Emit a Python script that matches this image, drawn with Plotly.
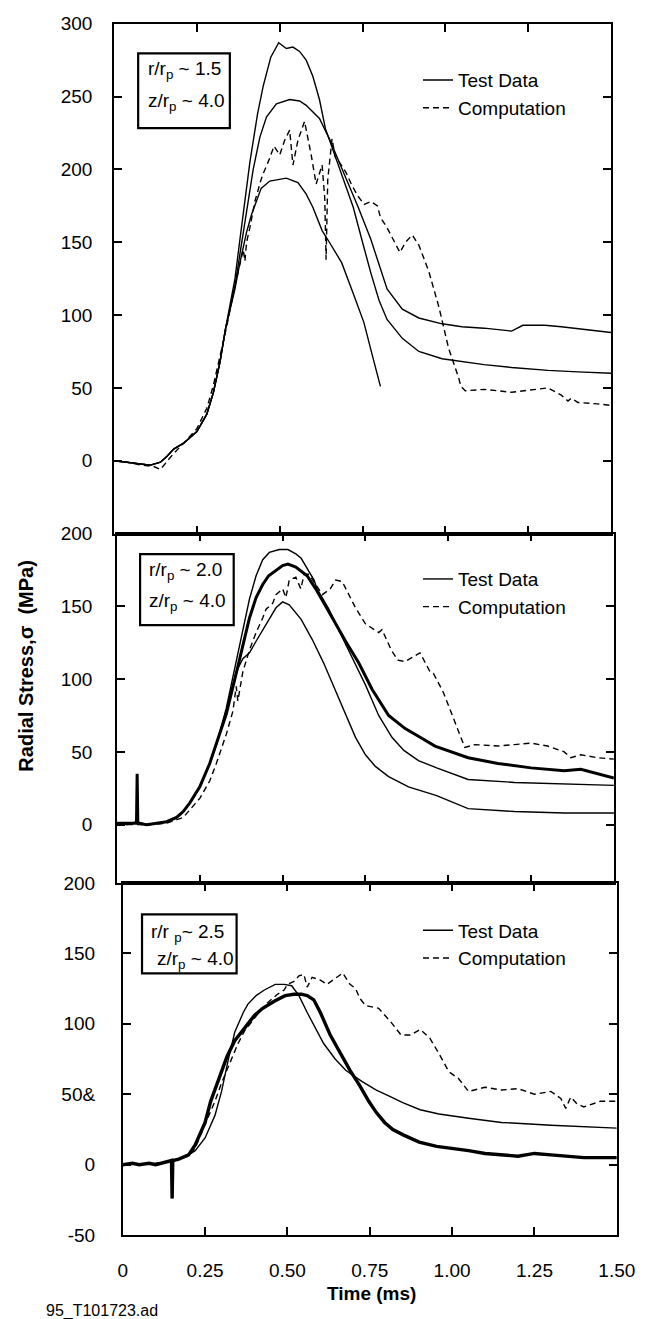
import plotly.graph_objects as go

# ---------------- data ----------------
# Top panel  r/rp ~ 1.5
top_early_t = [0, 0.04, 0.08, 0.11, 0.14, 0.16, 0.18, 0.21, 0.25, 0.28, 0.30, 0.32, 0.336]
top_early_v = [0, -1, -2, -3, -1, 3, 8, 12, 20, 32, 47, 68, 90]

top_a_t = [0.35, 0.365, 0.38, 0.395, 0.41, 0.433, 0.45, 0.473, 0.497, 0.52, 0.54, 0.56, 0.58, 0.60, 0.62,
           0.638, 0.658, 0.69, 0.722, 0.75, 0.775, 0.80, 0.824, 0.87, 0.92, 0.99, 1.05, 1.117, 1.2, 1.31, 1.4, 1.5]
top_a_v = [108, 125, 152, 180, 205, 238, 257, 277, 287, 283, 284, 281, 275, 264, 248,
           228, 215, 195, 174, 150, 129, 110, 97, 84, 75, 70, 68, 66, 64, 62, 61, 60]

top_b_t = [0.35, 0.365, 0.38, 0.40, 0.42, 0.44, 0.46, 0.49, 0.53, 0.56, 0.58, 0.62, 0.65, 0.70, 0.737,
           0.775, 0.80, 0.824, 0.87, 0.92, 0.99, 1.05, 1.117, 1.2, 1.234, 1.3, 1.35, 1.42, 1.5]
top_b_v = [104, 120, 142, 172, 200, 222, 236, 245, 248, 247, 244, 235, 221, 194, 174,
           152, 134, 118, 104, 98, 94, 92, 91, 89, 93, 93, 92, 90, 88]

top_c_t = [0.35, 0.365, 0.38, 0.40, 0.415, 0.444, 0.47, 0.49, 0.52, 0.555, 0.58, 0.60, 0.628, 0.65,
           0.687, 0.72, 0.754, 0.78, 0.804]
top_c_v = [104, 118, 136, 157, 169, 187, 192, 193, 194, 191, 183, 174, 158, 150,
           136, 116, 95, 72, 51]

top_comp_t = [0, 0.04, 0.08, 0.12, 0.14, 0.155, 0.18, 0.21, 0.25, 0.28, 0.30, 0.32, 0.34, 0.36, 0.38,
              0.39, 0.395, 0.40, 0.41, 0.425, 0.44, 0.448, 0.465, 0.483, 0.50, 0.515, 0.53, 0.54, 0.555,
              0.575, 0.595, 0.61, 0.628, 0.636, 0.64, 0.645, 0.658, 0.668, 0.68, 0.70, 0.716, 0.735,
              0.755, 0.775, 0.795, 0.804, 0.824, 0.863, 0.88, 0.90, 0.92, 0.95, 0.98, 1.01, 1.04,
              1.047, 1.06, 1.117, 1.2, 1.31, 1.35, 1.37, 1.38, 1.40, 1.46, 1.5]
top_comp_v = [0, -1, -3, -4, -6, -2, 5, 12, 22, 36, 52, 72, 92, 115, 135,
              145, 137, 150, 160, 178, 190, 196, 205, 216, 210, 220, 227, 203, 220,
              233, 210, 190, 203, 180, 138, 193, 221, 208, 205, 198, 190, 182,
              176, 178, 175, 167, 160, 143, 150, 155, 148, 130, 106, 77, 57,
              51, 48, 49, 47, 50, 45, 41, 43, 40, 39, 38]

# Middle panel  r/rp ~ 2.0
mid_early_t = [0, 0.03, 0.06, 0.09, 0.12, 0.15, 0.18, 0.20, 0.22, 0.25, 0.28, 0.30]
mid_early_v = [1, 0, 2, 0, 1, 2, 5, 9, 15, 26, 42, 55]

mid_a_t = [0.33, 0.36, 0.38, 0.40, 0.42, 0.44, 0.46, 0.49, 0.516, 0.54, 0.556, 0.575, 0.595, 0.604,
           0.64, 0.673, 0.71, 0.75, 0.79, 0.83, 0.866, 0.91, 0.965, 1.06, 1.2, 1.35, 1.5]
mid_a_v = [80, 112, 132, 155, 171, 182, 187, 189, 189, 186, 183, 176, 168, 162,
           148, 132, 115, 96, 75, 60, 51, 44, 39, 31, 29, 28, 27]

mid_b_spike_t = [0.0, 0.059, 0.061, 0.063, 0.09, 0.12, 0.15, 0.18, 0.20, 0.22, 0.25, 0.28, 0.30]
mid_b_spike_v = [1, 1, 35, 1, 0, 1, 2, 5, 9, 15, 26, 42, 55]

mid_b_t = [0.33, 0.36, 0.38, 0.40, 0.42, 0.44, 0.458, 0.48, 0.50, 0.516, 0.54, 0.574, 0.60, 0.653,
           0.69, 0.73, 0.77, 0.82, 0.87, 0.915, 0.96, 1.06, 1.15, 1.25, 1.35, 1.4, 1.45, 1.5]
mid_b_v = [76, 104, 124, 142, 156, 165, 171, 175, 178, 179, 177, 171, 162, 141,
           126, 111, 93, 75, 66, 60, 54, 46, 42, 39, 37, 38, 35, 32]

mid_c_t = [0.33, 0.36, 0.38, 0.40, 0.42, 0.44, 0.458, 0.48, 0.50, 0.52, 0.556, 0.59, 0.624, 0.66,
           0.69, 0.72, 0.75, 0.78, 0.82, 0.88, 0.965, 1.06, 1.2, 1.35, 1.5]
mid_c_v = [78, 105, 114, 118, 126, 134, 141, 149, 153, 151, 141, 127, 111, 92,
           75, 60, 48, 40, 33, 26, 20, 11, 9, 8, 8]

mid_comp_t = [0, 0.10, 0.15, 0.20, 0.25, 0.28, 0.30, 0.33, 0.35, 0.36, 0.365, 0.38, 0.40, 0.42, 0.44,
              0.45, 0.47, 0.48, 0.50, 0.51, 0.52, 0.54, 0.555, 0.565, 0.58, 0.60, 0.62, 0.644, 0.66,
              0.68, 0.72, 0.75, 0.79, 0.80, 0.828, 0.848, 0.87, 0.907, 0.915, 0.945, 0.955, 0.985,
              1.023, 1.05, 1.08, 1.15, 1.2, 1.25, 1.3, 1.35, 1.37, 1.4, 1.45, 1.5]
mid_comp_v = [0, 0, 1, 5, 18, 30, 42, 62, 78, 95, 85, 105, 120, 132, 142,
              148, 152, 158, 162, 156, 168, 170, 162, 172, 172, 165, 158, 162, 168,
              167, 149, 138, 132, 134, 120, 113, 112, 117, 118, 105, 104, 91,
              69, 53, 55, 54, 55, 56, 54, 50, 46, 48, 46, 45]

# Bottom panel  r/rp ~ 2.5
bot_early_t = [0, 0.03, 0.05, 0.08, 0.10, 0.13, 0.148, 0.15, 0.152, 0.17, 0.20]
bot_early_v = [0, 1, 0, 1, 0, 2, 3, -24, 3, 4, 7]

bot_a_t = [0.22, 0.25, 0.28, 0.30, 0.32, 0.34, 0.366, 0.38, 0.405, 0.43, 0.463, 0.49, 0.513, 0.535,
           0.56, 0.585, 0.61, 0.645, 0.677, 0.727, 0.77, 0.806, 0.85, 0.903, 0.96, 1.05, 1.15, 1.3, 1.5]
bot_a_v = [10, 19, 35, 52, 74, 94, 108, 114, 120, 124, 128, 128, 127, 120,
           108, 97, 86, 75, 67, 59, 53, 49, 44, 39, 36, 33, 30, 28, 26]

bot_b_t = [0.22, 0.25, 0.267, 0.29, 0.317, 0.34, 0.366, 0.40, 0.425, 0.46, 0.493, 0.52, 0.542, 0.56,
           0.58, 0.60, 0.63, 0.66, 0.69, 0.72, 0.747, 0.77, 0.795, 0.82, 0.853, 0.90, 0.953, 1.05,
           1.1, 1.2, 1.25, 1.3, 1.4, 1.5]
bot_b_v = [14, 30, 45, 60, 77, 88, 96, 106, 111, 116, 120, 121, 121, 120,
           117, 108, 92, 79, 67, 56, 45, 37, 30, 25, 21, 16, 13, 10,
           8, 6, 8, 7, 5, 5]

bot_comp_t = [0, 0.10, 0.15, 0.20, 0.22, 0.25, 0.28, 0.30, 0.33, 0.35, 0.37, 0.40, 0.42, 0.44, 0.47,
              0.49, 0.50, 0.52, 0.535, 0.55, 0.56, 0.575, 0.60, 0.62, 0.65, 0.668, 0.69, 0.707, 0.72,
              0.737, 0.777, 0.80, 0.815, 0.845, 0.873, 0.903, 0.932, 0.962, 0.99, 1.02, 1.05, 1.1,
              1.15, 1.2, 1.25, 1.3, 1.33, 1.345, 1.36, 1.38, 1.40, 1.45, 1.5]
bot_comp_v = [0, 1, 3, 6, 12, 28, 45, 58, 75, 86, 95, 104, 110, 115, 121,
              124, 128, 130, 134, 135, 126, 133, 131, 128, 133, 136, 128, 125, 118,
              113, 111, 105, 101, 92, 92, 96, 90, 78, 66, 61, 52, 55,
              53, 54, 50, 52, 47, 40, 48, 43, 41, 45, 45]

x_tick_vals = [0, 0.25, 0.5, 0.75, 1.0, 1.25, 1.5]
x_tick_text = ["0", "0.25", "0.50", "0.75", "1.00", "1.25", "1.50"]
top_tick_vals = [0, 50, 100, 150, 200, 250, 300]
mid_tick_vals = [0, 50, 100, 150, 200]
bot_tick_vals = [-50, 0, 50, 100, 150, 200]
bot_tick_text = ["-50", "0", "50&", "100", "150", "200"]

# ---------------- figure ----------------
W, H = 657, 1319
FONT = "Liberation Sans, Arial, Helvetica, sans-serif"
BLACK = "#000000"

def px_x(p):
    return p / W

def px_y(p):
    return 1 - p / H

fig = go.Figure()

thin = dict(color=BLACK, width=1.4)
thick = dict(color=BLACK, width=3)
dashed = dict(color=BLACK, width=1.4, dash="6px,4px")

# top
fig.add_trace(go.Scatter(x=top_early_t + top_a_t, y=top_early_v + top_a_v, mode="lines", line=thin,
                         name="Test Data", legend="legend", xaxis="x", yaxis="y"))
fig.add_trace(go.Scatter(x=top_early_t + top_b_t, y=top_early_v + top_b_v, mode="lines", line=thin,
                         showlegend=False, xaxis="x", yaxis="y"))
fig.add_trace(go.Scatter(x=top_early_t + top_c_t, y=top_early_v + top_c_v, mode="lines", line=thin,
                         showlegend=False, xaxis="x", yaxis="y"))
fig.add_trace(go.Scatter(x=top_comp_t, y=top_comp_v, mode="lines", line=dashed,
                         name="Computation", legend="legend", xaxis="x", yaxis="y"))

# middle
fig.add_trace(go.Scatter(x=mid_early_t + mid_a_t, y=mid_early_v + mid_a_v, mode="lines", line=thin,
                         name="Test Data", legend="legend2", xaxis="x2", yaxis="y2"))
fig.add_trace(go.Scatter(x=mid_b_spike_t + mid_b_t, y=mid_b_spike_v + mid_b_v, mode="lines", line=thick,
                         showlegend=False, xaxis="x2", yaxis="y2"))
fig.add_trace(go.Scatter(x=mid_early_t + mid_c_t, y=mid_early_v + mid_c_v, mode="lines", line=thin,
                         showlegend=False, xaxis="x2", yaxis="y2"))
fig.add_trace(go.Scatter(x=mid_comp_t, y=mid_comp_v, mode="lines", line=dashed,
                         name="Computation", legend="legend2", xaxis="x2", yaxis="y2"))

# bottom
fig.add_trace(go.Scatter(x=bot_early_t + bot_a_t, y=bot_early_v + bot_a_v, mode="lines", line=thin,
                         name="Test Data", legend="legend3", xaxis="x3", yaxis="y3"))
fig.add_trace(go.Scatter(x=bot_early_t + bot_b_t, y=bot_early_v + bot_b_v, mode="lines",
                         line=dict(color=BLACK, width=3.4), showlegend=False, xaxis="x3", yaxis="y3"))
fig.add_trace(go.Scatter(x=bot_comp_t, y=bot_comp_v, mode="lines", line=dashed,
                         name="Computation", legend="legend3", xaxis="x3", yaxis="y3"))

tickfont = dict(family=FONT, size=19, color=BLACK)

def xaxis(dom, anchor, show_labels):
    return dict(domain=dom, anchor=anchor, range=[0, 1.5], showgrid=False, zeroline=False,
                showline=True, linecolor=BLACK, linewidth=1.6, mirror="ticks",
                ticks="inside", ticklen=8, tickwidth=1.6, tickcolor=BLACK,
                tickvals=x_tick_vals, ticktext=x_tick_text, showticklabels=show_labels,
                tickfont=tickfont, ticklabelstandoff=17, fixedrange=True)

def yaxis(dom, anchor, rng, vals, texts, standoff):
    return dict(domain=dom, anchor=anchor, range=rng, showgrid=False, zeroline=False,
                showline=True, linecolor=BLACK, linewidth=1.6, mirror="ticks",
                ticks="inside", ticklen=8, tickwidth=1.6, tickcolor=BLACK,
                tickvals=vals, ticktext=texts, tickfont=tickfont,
                ticklabelstandoff=standoff, fixedrange=True)

top_dom = [px_y(532), px_y(14)]
mid_dom = [px_y(887), px_y(532)]
bot_dom = [px_y(1245), px_y(887)]

legfont = dict(family=FONT, size=19, color=BLACK)

def legend(xp, yp):
    return dict(x=px_x(xp), y=px_y(yp), xanchor="left", yanchor="top", bgcolor="rgba(0,0,0,0)",
                borderwidth=0, font=legfont, tracegroupgap=0)

fig.update_layout(
    width=W, height=H, margin=dict(l=0, r=0, t=0, b=0),
    paper_bgcolor="white", plot_bgcolor="white",
    font=dict(family=FONT, color=BLACK),
    xaxis=xaxis([px_x(113), px_x(628)], "y", False),
    xaxis2=xaxis([px_x(116), px_x(631)], "y2", False),
    xaxis3=xaxis([px_x(122), px_x(634)], "y3", True),
    yaxis=yaxis(top_dom, "x", [-50, 300], top_tick_vals, [str(v) for v in top_tick_vals], 16),
    yaxis2=yaxis(mid_dom, "x2", [-40, 200], mid_tick_vals, [str(v) for v in mid_tick_vals], 19),
    yaxis3=yaxis(bot_dom, "x3", [-50, 200], bot_tick_vals, bot_tick_text, 22),
    legend=legend(428, 52),
    legend2=legend(428, 559),
    legend3=legend(428, 916),
    showlegend=True,
)

# text boxes
boxes = [
    ((138, 44, 233, 120), [("r/r<sub>p</sub> ~ 1.5", 146, 61), ("z/r<sub>p</sub> ~ 4.0", 146, 93)]),
    ((140, 553, 237, 625), [("r/r<sub>p</sub> ~ 2.0", 147, 570), ("z/r<sub>p</sub> ~ 4.0", 147, 602)]),
    ((142, 919, 240, 979), [("r/r <sub>p</sub>~ 2.5", 149, 938), ("z/r<sub>p</sub> ~ 4.0", 155, 965)]),
]
for (x0, y0, x1, y1), lines in boxes:
    fig.add_shape(type="rect", xref="paper", yref="paper", x0=px_x(x0), x1=px_x(x1),
                  y0=px_y(y1), y1=px_y(y0), line=dict(color=BLACK, width=2.2), fillcolor="rgba(0,0,0,0)")
    for txt, tx, ty in lines:
        fig.add_annotation(text=txt, xref="paper", yref="paper", x=px_x(tx), y=px_y(ty),
                           xanchor="left", yanchor="middle", showarrow=False,
                           font=dict(family=FONT, size=19, color=BLACK))

# axis titles
fig.add_annotation(text="<b>Radial Stress,σ\u00a0\u00a0(MPa)</b>", xref="paper", yref="paper",
                   x=px_x(22), y=px_y(666), textangle=-90, showarrow=False,
                   xanchor="center", yanchor="middle", font=dict(family=FONT, size=20, color=BLACK))
fig.add_annotation(text="<b>Time (ms)</b>", xref="paper", yref="paper",
                   x=px_x(380), y=px_y(1304), showarrow=False,
                   xanchor="center", yanchor="middle", font=dict(family=FONT, size=19, color=BLACK))
fig.add_annotation(text="95_T101723.ad", xref="paper", yref="paper",
                   x=px_x(40), y=px_y(1311), showarrow=False,
                   xanchor="left", yanchor="top", font=dict(family=FONT, size=16, color=BLACK))

fig.write_html("out.html")
